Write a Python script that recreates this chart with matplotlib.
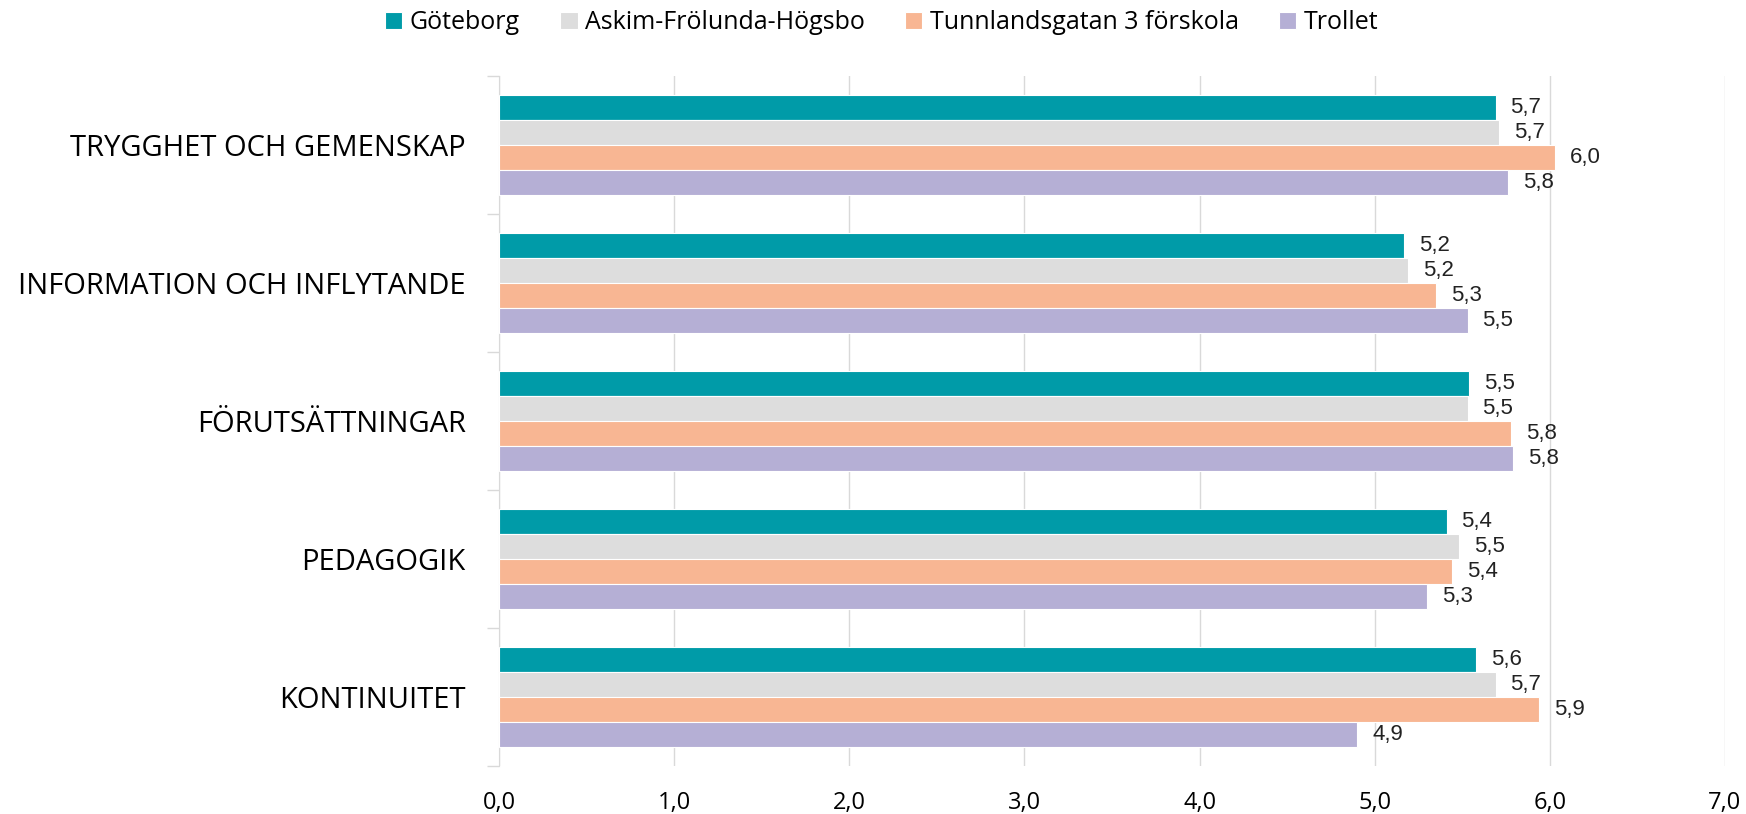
import matplotlib
matplotlib.use("Agg")
import matplotlib.pyplot as plt
import numpy as np

categories = ["TRYGGHET OCH GEMENSKAP", "INFORMATION OCH INFLYTANDE",
              "FÖRUTSÄTTNINGAR", "PEDAGOGIK", "KONTINUITET"]
series_names = ["Göteborg", "Askim-Frölunda-Högsbo",
                "Tunnlandsgatan 3 förskola", "Trollet"]
goteborg = [5.69, 5.17, 5.54, 5.41, 5.58]
askim = [5.71, 5.19, 5.53, 5.48, 5.69]
tunnland = [6.03, 5.35, 5.78, 5.44, 5.94]
trollet = [5.76, 5.53, 5.79, 5.30, 4.90]
colors = ["#009BA8", "#DDDDDD", "#F8B693", "#B5AFD5"]
xticks = [0, 1, 2, 3, 4, 5, 6, 7]

plt.rcParams["font.family"] = ["Open Sans", "DejaVu Sans"]

fig = plt.figure(figsize=(17.46, 8.14), dpi=100)
ax = fig.add_axes([499 / 1746, 48 / 814, (1725 - 499) / 1746, (766 - 76) / 814])

y = np.arange(len(categories))
h = 0.18
offsets = [-1.5 * h, -0.5 * h, 0.5 * h, 1.5 * h]
for vals, name, col, off in zip([goteborg, askim, tunnland, trollet], series_names, colors, offsets):
    bars = ax.barh(y + off, vals, height=h, color=col, edgecolor="white", linewidth=0.8,
                   label=name, zorder=3)
    for b, v in zip(bars, vals):
        ax.text(v + 0.085, b.get_y() + b.get_height() / 2, f"{v:.1f}".replace(".", ","),
                va="center", ha="left", fontsize=16, family="Liberation Sans", color="#222222")

ax.set_xlim(0, 7)
ax.set_ylim(len(categories) - 0.5, -0.5)
ax.set_xticks(xticks)
ax.set_xticklabels([f"{t:.1f}".replace(".", ",") for t in xticks], fontsize=17)
ax.tick_params(axis="x", length=0, pad=18)
ax.set_yticks(y)
ax.set_yticklabels(categories, fontsize=21)
ax.tick_params(axis="y", which="major", length=0, pad=24)
ax.set_yticks(np.arange(len(categories) + 1) - 0.5, minor=True)
ax.tick_params(axis="y", which="minor", length=9, color="#D9D9D9", width=1)
ax.grid(axis="x", color="#D9D9D9", linewidth=1, zorder=0)
for s in ["top", "right", "bottom"]:
    ax.spines[s].set_visible(False)
ax.spines["left"].set_color("#D9D9D9")

fig.legend(loc="center", bbox_to_anchor=(0.505, 0.972), ncol=4, frameon=False,
           fontsize=18, handlelength=0.7, handleheight=0.7, handletextpad=0.3,
           columnspacing=1.6)

fig.savefig("out.png", dpi=100)
